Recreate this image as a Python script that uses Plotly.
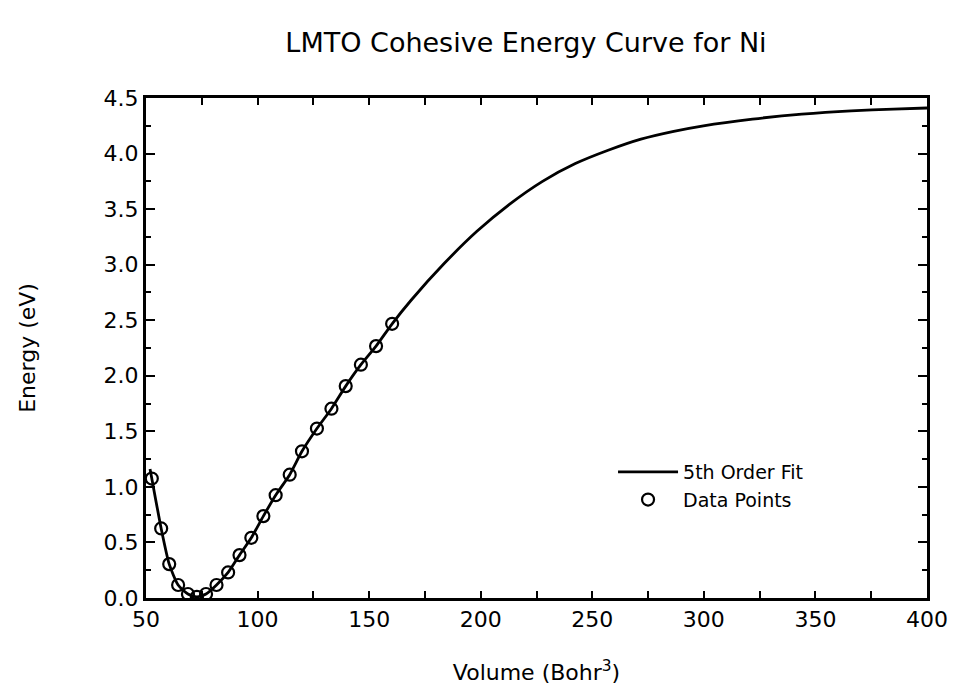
import plotly.graph_objects as go

# LMTO total-energy data for Ni (volume in Bohr^3, energy in eV)
volume_pts = [52.6, 56.8, 60.4, 64.4, 68.8, 72.8, 76.9, 81.6, 86.8, 91.9, 97.2,
              102.6, 108.1, 114.4, 119.9, 126.6, 133.1, 139.5, 146.3, 153.1, 160.3]
energy_pts = [1.075, 0.626, 0.305, 0.117, 0.036, 0.010, 0.036, 0.117, 0.230, 0.386, 0.542,
              0.737, 0.925, 1.110, 1.320, 1.525, 1.704, 1.907, 2.100, 2.267, 2.468]

# 5th order fit sampled along the volume range
fit_volume = [51.8] + volume_pts + [168.8, 183.6, 198.3, 213.0, 227.7, 242.4, 257.1,
                                    271.8, 286.5, 299.8, 321.8, 343.9, 366.0, 385.0, 400.0]
fit_energy = [1.16] + energy_pts + [2.68, 3.01, 3.30, 3.545, 3.75, 3.91, 4.03,
                                    4.13, 4.20, 4.25, 4.31, 4.355, 4.385, 4.40, 4.41]

x_ticks = [50, 100, 150, 200, 250, 300, 350, 400]
y_ticks = [0.0, 0.5, 1.0, 1.5, 2.0, 2.5, 3.0, 3.5, 4.0, 4.5]

FONT = "DejaVu Sans"

fig = go.Figure()
fig.add_trace(go.Scatter(
    x=fit_volume, y=fit_energy, mode="lines", name="5th Order Fit",
    line=dict(color="black", width=2.8, shape="spline", smoothing=0.6),
))
fig.add_trace(go.Scatter(
    x=volume_pts, y=energy_pts, mode="markers", name="Data Points",
    marker=dict(symbol="circle-open", size=12, color="black", line=dict(width=2.2)),
))

axis_common = dict(
    showline=True, linecolor="black", linewidth=3, mirror="ticks",
    ticks="inside", tickcolor="black", tickwidth=1.5,
    showgrid=False, zeroline=False,
    tickfont=dict(family=FONT, size=22, color="black"),
)

fig.update_layout(
    width=960, height=694,
    margin=dict(l=146, r=23, t=98, b=96),
    paper_bgcolor="white", plot_bgcolor="white",
    title=dict(text="LMTO Cohesive Energy Curve for Ni",
               x=526 / 960, xanchor="center",
               y=1 - 43 / 694, yanchor="middle",
               font=dict(family=FONT, size=27, color="black")),
    showlegend=True,
    legend=dict(x=0.598, y=0.29, xanchor="left", yanchor="top",
                bgcolor="rgba(0,0,0,0)", borderwidth=0,
                font=dict(family=FONT, size=19, color="black"),
                itemwidth=60, tracegroupgap=0),
    xaxis=dict(range=[50, 400], tickvals=x_ticks,
               ticktext=[str(v) for v in x_ticks], ticklen=7,
               minor=dict(dtick=25, tick0=0, ticks="inside", ticklen=7,
                          tickcolor="black", tickwidth=1.5),
               title=dict(text="Volume (Bohr<sup>3</sup>)", standoff=34,
                          font=dict(family=FONT, size=22, color="black")),
               **axis_common),
    yaxis=dict(range=[0, 4.5], tickvals=y_ticks,
               ticktext=[f"{v:.1f}" for v in y_ticks], ticklen=9,
               minor=dict(dtick=0.25, tick0=0, ticks="inside", ticklen=5,
                          tickcolor="black", tickwidth=1.5),
               title=dict(text="Energy (eV)", standoff=62,
                          font=dict(family=FONT, size=22, color="black")),
               **axis_common),
)

fig.write_html("out.html")
